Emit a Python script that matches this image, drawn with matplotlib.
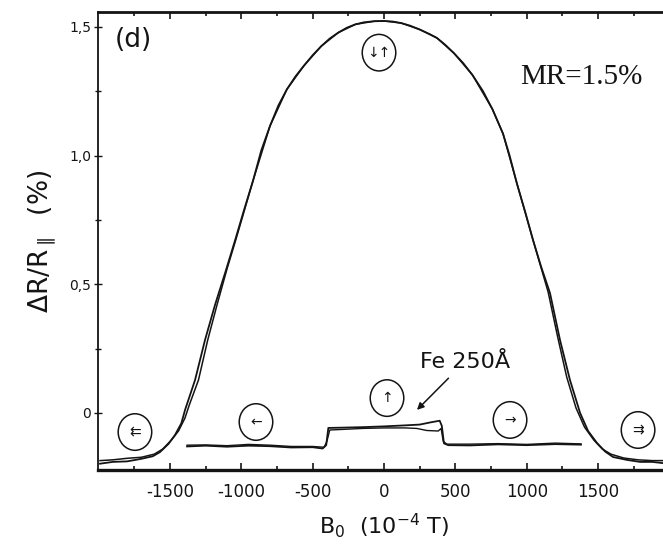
import matplotlib
matplotlib.use("Agg")
import matplotlib.pyplot as plt
from matplotlib.patches import Ellipse

# Dome (parallel/antiparallel trilayer), outer trace
dome_x1 = [-1990, -1900, -1800, -1700, -1620, -1570, -1510, -1465, -1420, -1394,
           -1324, -1254, -1184, -1110, -1044, -980, -918, -860, -799, -740,
           -680, -620, -560, -500, -440, -380, -320, -260, -200, -140, -70, 0,
           60, 120, 182, 250, 320, 371, 430, 490, 554, 620, 694, 760, 834,
           880, 932, 990, 1044, 1100, 1163, 1233, 1303, 1374, 1430, 1493,
           1550, 1605, 1700, 1794, 1880, 1990]
dome_y1 = [-0.197, -0.19, -0.188, -0.178, -0.168, -0.152, -0.12, -0.086, -0.04, 0.012,
           0.128, 0.284, 0.42, 0.55, 0.67, 0.79, 0.902, 1.02, 1.115, 1.195,
           1.258, 1.308, 1.35, 1.39, 1.425, 1.455, 1.478, 1.497, 1.51, 1.518, 1.522, 1.523,
           1.521, 1.515, 1.505, 1.49, 1.472, 1.457, 1.43, 1.398, 1.36, 1.313, 1.25, 1.18, 1.085,
           1.0, 0.89, 0.78, 0.672, 0.57, 0.466, 0.284, 0.128, 0.0, -0.07, -0.117,
           -0.15, -0.171, -0.182, -0.19, -0.19, -0.197]

# Dome, inner trace (other sweep direction)
dome_x2 = [-1990, -1900, -1800, -1700, -1610, -1550, -1490, -1440, -1395, -1365,
           -1300, -1235, -1170, -1100, -1040, -918, -799, -680, -560, -440,
           -320, -200, -70, 0, 120, 250, 371, 490, 620, 760, 834, 932, 1040,
           1150, 1215, 1280, 1345, 1405, 1470, 1530, 1590, 1680, 1780, 1880, 1990]
dome_y2 = [-0.185, -0.182, -0.176, -0.172, -0.16, -0.14, -0.105, -0.07, -0.02, 0.03,
           0.128, 0.284, 0.42, 0.56, 0.67, 0.902, 1.115, 1.258, 1.35, 1.425,
           1.478, 1.51, 1.522, 1.523, 1.515, 1.49, 1.457, 1.398, 1.313, 1.18, 1.085, 0.89, 0.68,
           0.47, 0.3, 0.14, 0.02, -0.055, -0.105, -0.14, -0.16, -0.175, -0.182, -0.185, -0.185]

# Single Fe 250 A film, two sweeps
fe_x1 = [-1380, -1250, -1100, -950, -800, -650, -500, -430, -405, -390, -300, -150,
         0, 150, 250, 330, 390, 405, 420, 450, 600, 800, 1000, 1200, 1380]
fe_y1 = [-0.13, -0.127, -0.131, -0.127, -0.129, -0.134, -0.133, -0.138, -0.125, -0.058,
         -0.057, -0.055, -0.052, -0.048, -0.045, -0.036, -0.03, -0.05, -0.118, -0.125,
         -0.126, -0.122, -0.125, -0.121, -0.123]
fe_x2 = [-1380, -1250, -1100, -950, -800, -650, -500, -420, -400, -380, -300, -150,
         0, 150, 230, 300, 380, 400, 415, 440, 600, 800, 1000, 1200, 1380]
fe_y2 = [-0.125, -0.124, -0.127, -0.122, -0.125, -0.13, -0.13, -0.133, -0.11, -0.066,
         -0.064, -0.06, -0.058, -0.058, -0.06, -0.068, -0.07, -0.06, -0.11, -0.121,
         -0.121, -0.119, -0.122, -0.117, -0.12]

# Magnetisation-configuration symbols: (x, y, glyph)
sym_x = [-1745, -897, 21, 883, 1780, -35]
sym_y = [-0.074, -0.035, 0.058, -0.027, -0.066, 1.40]
sym_txt = ["\u21c7", "\u2190", "\u2191", "\u2192", "\u21c9", "\u2193\u2191"]

x_ticks = [-1500, -1000, -500, 0, 500, 1000, 1500]
x_labels = ["-1500", "-1000", "-500", "0", "500", "1000", "1500"]
y_ticks = [0, 0.5, 1.0, 1.5]
y_labels = ["0", "0,5", "1,0", "1,5"]

ink = "#141414"

fig = plt.figure(figsize=(6.63, 5.45), dpi=100)
ax = fig.add_axes([0.1478, 0.1376, 0.8643, 0.8404])

ax.plot(dome_x1, dome_y1, color=ink, lw=1.3)
ax.plot(dome_x2, dome_y2, color=ink, lw=1.1)
ax.plot(fe_x1, fe_y1, color=ink, lw=1.3)
ax.plot(fe_x2, fe_y2, color=ink, lw=1.0)

for sx, sy, st in zip(sym_x, sym_y, sym_txt):
    ax.add_patch(Ellipse((sx, sy), 235, 0.142, fill=False, ec=ink, lw=1.1))
    ax.text(sx, sy, st, ha="center", va="center", fontsize=10, color=ink)

ax.annotate("Fe 250\u00c5", xy=(231, 0.012), xytext=(568, 0.20),
            fontsize=16, color=ink, ha="center", va="center",
            arrowprops=dict(arrowstyle="-|>", color=ink, lw=1.1,
                            shrinkA=4, shrinkB=0, mutation_scale=10))

ax.text(953, 1.306, "MR=1.5%", family="Liberation Serif", fontsize=21,
        ha="left", va="center", color=ink)
ax.text(-1890, 1.45, "(d)", fontsize=19, ha="left", va="center", color=ink)

ax.set_xlim(-2004, 2011)
ax.set_ylim(-0.2215, 1.558)
ax.set_xticks(x_ticks)
ax.set_xticklabels(x_labels)
ax.set_yticks(y_ticks)
ax.set_yticklabels(y_labels)
ax.set_xticks([-1750, -1250, -750, -250, 250, 750, 1250, 1750], minor=True)
ax.set_yticks([0.25, 0.75, 1.25], minor=True)
ax.tick_params(axis="x", which="both", direction="in", top=True, length=5,
               width=1.2, pad=9, labelsize=12, colors=ink)
ax.tick_params(axis="x", which="minor", length=3)
ax.tick_params(axis="y", which="both", direction="inout", length=6,
               width=1.0, pad=2, labelsize=10, colors=ink)
ax.tick_params(axis="y", which="minor", length=4)

ax.spines["bottom"].set_linewidth(2.4)
ax.spines["top"].set_linewidth(2.0)
ax.spines["left"].set_linewidth(1.3)
for s in ax.spines.values():
    s.set_color(ink)

ax.set_ylabel(r"$\mathrm{\Delta R/R_{\parallel}}$  (%)", fontsize=19, color=ink, labelpad=8)
ax.set_xlabel(r"B$_0$  (10$^{-4}$ T)", fontsize=16, color=ink, labelpad=8)

fig.savefig("out.png", dpi=100)
